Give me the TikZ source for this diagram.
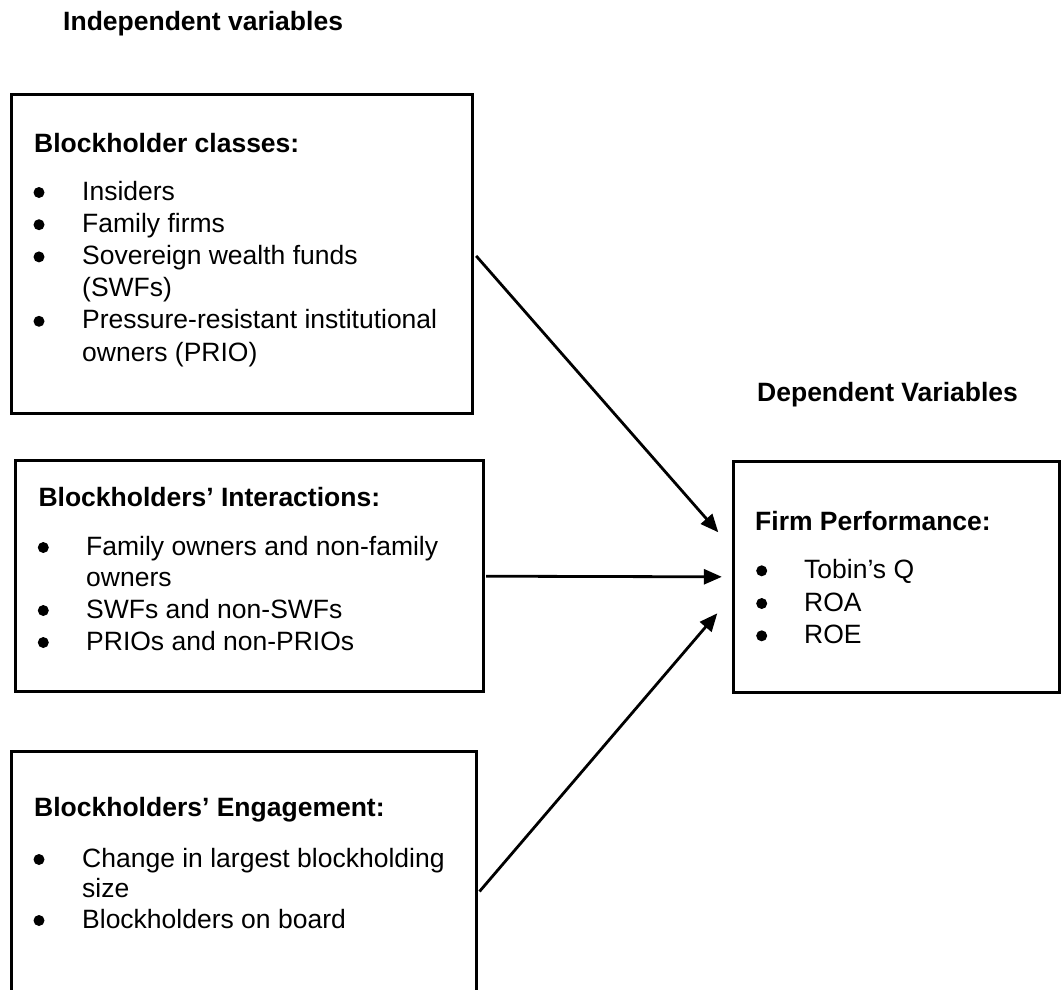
\documentclass[tikz,border=0pt]{standalone}
\usepackage{fontspec}
\setmainfont{Liberation Sans}
\usetikzlibrary{arrows.meta}
\tikzset{
  box/.style={draw=black, line width=3pt, rectangle, inner sep=0pt},
  txt/.style={anchor=base west, inner sep=0pt, font=\fontsize{26.5}{32}\selectfont},
  ttl/.style={anchor=base west, inner sep=0pt, font=\fontsize{26.5}{32}\selectfont\bfseries},
  bul/.style={circle, fill=black, inner sep=0pt, minimum size=11pt, yshift=7.5pt},
  conn/.style={line width=2.8pt, -{Triangle[length=18pt,width=15pt]}}
}
\begin{document}
\begin{tikzpicture}[x=1pt,y=-1pt]
\useasboundingbox (0,0) rectangle (1061,989);
\clip (0,0) rectangle (1061,989);
\fill[white] (0,0) rectangle (1061,989);

% headings
\node[ttl] (indep) at (63,30) {Independent variables};
\node[ttl] (dep) at (757,401.7) {Dependent Variables};

% boxes
\node[box, minimum width=461pt, minimum height=319.3pt] (b1) at (242.2,253.65) {};
\node[box, minimum width=468.5pt, minimum height=231pt] (b2) at (249.25,576.2) {};
\node[box, minimum width=465pt, minimum height=282.6pt] (b3) at (244.2,893) {};
\node[box, minimum width=325.7pt, minimum height=230.3pt] (b4) at (896.2,576.85) {};

% box 1 text
\node[ttl] (b1t) at (34,152.7) {Blockholder classes:};
\node[bul] (b1b1) at (39,200) {};
\node[txt] (b1i1) at (82,200) {Insiders};
\node[bul] (b1b2) at (39,232.2) {};
\node[txt] (b1i2) at (82,232.2) {Family firms};
\node[bul] (b1b3) at (39,264.4) {};
\node[txt] (b1i3) at (82,264.4) {Sovereign wealth funds};
\node[txt] (b1i3b) at (82,296.6) {(SWFs)};
\node[bul] (b1b4) at (39,328.8) {};
\node[txt] (b1i4) at (82,328.8) {Pressure-resistant institutional};
\node[txt] (b1i4b) at (82,361) {owners (PRIO)};

% box 2 text
\node[ttl] (b2t) at (38.3,506.7) {Blockholders’ Interactions:};
\node[bul] (b2b1) at (43.3,555) {};
\node[txt] (b2i1) at (86,555) {Family owners and non-family};
\node[txt] (b2i1b) at (86,586.5) {owners};
\node[bul] (b2b2) at (43.3,618) {};
\node[txt] (b2i2) at (86,618) {SWFs and non-SWFs};
\node[bul] (b2b3) at (43.3,650) {};
\node[txt] (b2i3) at (86,650) {PRIOs and non-PRIOs};

% box 3 text
\node[ttl] (b3t) at (34,816.7) {Blockholders’ Engagement:};
\node[bul] (b3b1) at (39,867) {};
\node[txt] (b3i1) at (82,867) {Change in largest blockholding};
\node[txt] (b3i1b) at (82,897.5) {size};
\node[bul] (b3b2) at (39,928) {};
\node[txt] (b3i2) at (82,928) {Blockholders on board};

% box 4 text
\node[ttl] (b4t) at (755,530) {Firm Performance:};
\node[bul] (b4b1) at (761.7,578.3) {};
\node[txt] (b4i1) at (804,578.3) {Tobin’s Q};
\node[bul] (b4b2) at (761.7,611) {};
\node[txt] (b4i2) at (804,611) {ROA};
\node[bul] (b4b3) at (761.7,643.3) {};
\node[txt] (b4i3) at (804,643.3) {ROE};

% connectors
\coordinate (tip1) at (718.3,532.3);
\coordinate (tip3) at (717.3,613.3);
\draw[conn, shorten <=3pt] (b1.east) -- (tip1);
\draw[conn, shorten <=1pt, shorten >=10pt] (b2.east) -- (b4.west);
\draw[conn, shorten <=2pt] (b3.east) -- (tip3);
\end{tikzpicture}
\end{document}
